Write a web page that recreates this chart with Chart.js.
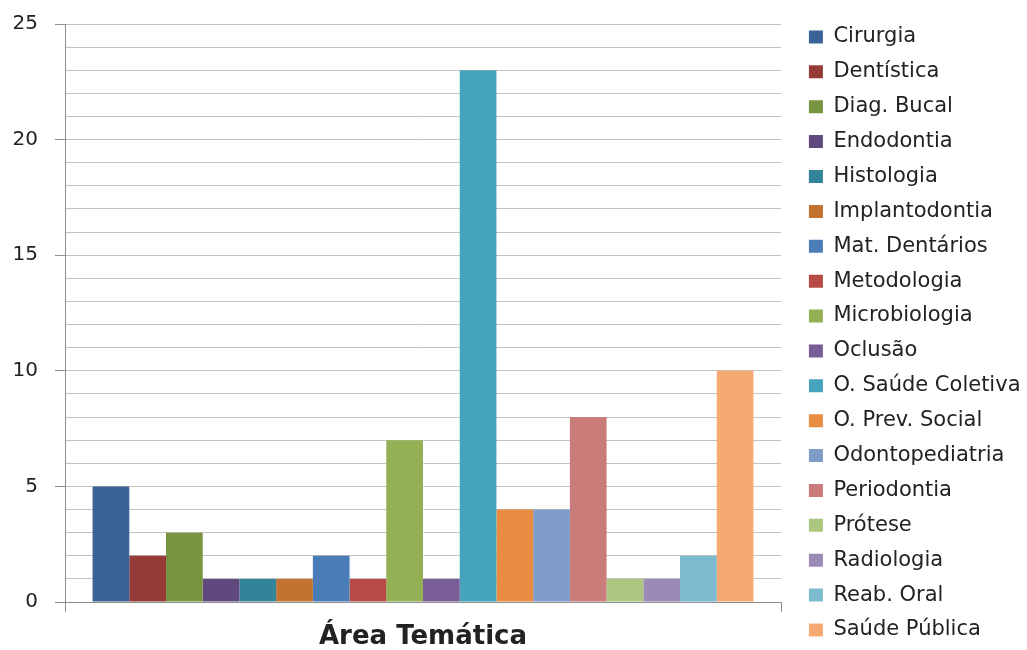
<!DOCTYPE html>
<html lang="pt">
<head>
<meta charset="utf-8">
<title>Área Temática</title>
<script src="https://cdn.jsdelivr.net/npm/chart.js@4/dist/chart.umd.min.js"></script>
<style>
  html, body { margin: 0; padding: 0; background: #ffffff; }
  #wrap { position: relative; width: 1027px; height: 650px; }
</style>
</head>
<body>
<div id="wrap"><canvas id="chart"></canvas></div>
<script>
// Category shown under the x axis
const categories = ['Área Temática'];

// One bar series per thematic area
const seriesNames = [
  'Cirurgia', 'Dentística', 'Diag. Bucal', 'Endodontia', 'Histologia',
  'Implantodontia', 'Mat. Dentários', 'Metodologia', 'Microbiologia',
  'Oclusão', 'O. Saúde Coletiva', 'O. Prev. Social', 'Odontopediatria',
  'Periodontia', 'Prótese', 'Radiologia', 'Reab. Oral', 'Saúde Pública'
];

const seriesValues = [5, 2, 3, 1, 1, 1, 2, 1, 7, 1, 23, 4, 4, 8, 1, 1, 2, 10];

const seriesColors = [
  '#3A6296', '#963B38', '#779540', '#604A7D', '#32849B', '#C3722F',
  '#4A7DB8', '#B84B48', '#93B054', '#785D99', '#46A3BC', '#E88C41',
  '#7F9BC8', '#CA7C7B', '#ABC67F', '#9C8AB6', '#7BBACF', '#F7A974'
];

// Value axis: a grid line every unit, labels every 5
const yMin = 0;
const yMax = 25;
const yLabelStep = 5;

const datasets = seriesNames.map((name, i) => ({
  label: name,
  data: [seriesValues[i]],
  backgroundColor: seriesColors[i],
  borderWidth: 0,
  categoryPercentage: 0.923,
  barPercentage: 1
}));

const axisGray = '#8c8c8c';
const textColor = '#222222';

new Chart(document.getElementById('chart'), {
  type: 'bar',
  data: { labels: categories, datasets },
  options: {
    responsive: true,
    maintainAspectRatio: false,
    animation: false,
    layout: { padding: { top: 12.6, bottom: -6, left: 0, right: -3.5 } },
    plugins: {
      tooltip: { enabled: false },
      title: { display: false },
      legend: {
        position: 'right',
        align: 'start',
        maxWidth: 400,
        labels: {
          boxWidth: 14,
          boxHeight: 13,
          padding: 13.88,
          color: textColor,
          font: { family: 'DejaVu Sans', size: 21 }
        }
      }
    },
    scales: {
      x: {
        type: 'category',
        position: 'bottom',
        offset: true,
        grid: {
          offset: true,
          drawOnChartArea: false,
          drawTicks: true,
          tickLength: 10,
          color: axisGray,
          tickColor: axisGray
        },
        border: { display: true, color: axisGray, width: 1 },
        ticks: {
          color: textColor,
          padding: 10,
          maxRotation: 0,
          font: { family: 'DejaVu Sans', size: 26, weight: 'bold' }
        },
        afterFit: (s) => { s.height = 54; }
      },
      y: {
        type: 'linear',
        position: 'left',
        min: yMin,
        max: yMax,
        grid: {
          color: '#c2c2c2',
          lineWidth: 1,
          drawTicks: true,
          tickLength: 10,
          tickColor: (ctx) => (ctx.tick && ctx.tick.value % yLabelStep === 0) ? axisGray : 'rgba(0,0,0,0)'
        },
        border: { display: true, color: axisGray, width: 1 },
        ticks: {
          stepSize: 1,
          maxTicksLimit: 40,
          autoSkip: false,
          padding: 17,
          color: textColor,
          font: { family: 'DejaVu Sans', size: 20, lineHeight: 0.2 },
          callback: (v) => (v % yLabelStep === 0 ? String(v) : '')
        },
        afterFit: (s) => { s.width = 65; }
      },
      // spacing between the plot's right edge and the legend
      rightGap: {
        type: 'linear',
        axis: 'y',
        position: 'right',
        display: true,
        grid: { display: false },
        border: { display: false },
        ticks: { display: false },
        afterFit: (s) => { s.width = 14; }
      },
      // spacing above the plot area
      topGap: {
        type: 'linear',
        axis: 'x',
        position: 'top',
        display: true,
        grid: { display: false },
        border: { display: false },
        ticks: { display: false },
        afterFit: (s) => { s.height = 11.4; }
      }
    }
  }
});
</script>
</body>
</html>
